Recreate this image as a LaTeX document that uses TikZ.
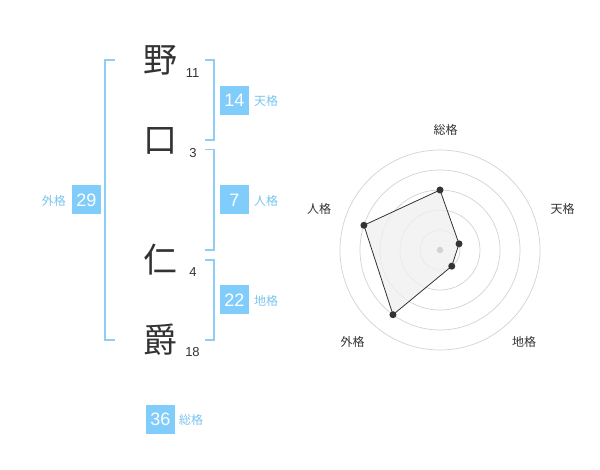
\documentclass[tikz,border=0pt]{standalone}
\usepackage{fontspec}
\setmainfont{Liberation Sans}
\newfontfamily\cjk{Noto Sans CJK JP}
\definecolor{boxblue}{RGB}{128,204,250}
\definecolor{lblblue}{RGB}{120,196,240}
\definecolor{brblue}{RGB}{140,206,245}
\definecolor{ink}{RGB}{51,51,51}
\definecolor{ringgray}{RGB}{210,210,210}
\definecolor{polyfill}{RGB}{240,240,240}
\begin{document}
\begin{tikzpicture}[x=1pt,y=-1pt,
  kanji/.style={font=\cjk\fontsize{34}{34}\selectfont, text=ink, inner sep=0pt},
  strokes/.style={font=\fontsize{13}{13}\selectfont, text=ink, inner sep=0pt},
  valbox/.style={fill=boxblue, text=white, font=\fontsize{18}{18}\selectfont, minimum width=29pt, minimum height=29pt, inner sep=0pt},
  kakulbl/.style={font=\cjk\fontsize{12}{12}\selectfont, text=lblblue, inner sep=0pt},
  bracket/.style={draw=brblue, line width=1.5pt},
  ring/.style={draw=ringgray, line width=0.7pt},
  radlbl/.style={font=\cjk\fontsize{12}{12}\selectfont, text=ink, inner sep=0pt},
  dot/.style={circle, fill=ink, inner sep=0pt, minimum size=7pt}
]
\useasboundingbox (0,0) rectangle (600,470);

% kanji
\node[kanji] (k1) at (160,60) {野};
\node[kanji] (k2) at (160,141) {口};
\node[kanji] (k3) at (160,260) {仁};
\node[kanji] (k4) at (160,340) {爵};
\node[strokes] (s1) at (192.5,73) {11};
\node[strokes] (s2) at (193,153) {3};
\node[strokes] (s3) at (193,272.5) {4};
\node[strokes] (s4) at (192.5,352.5) {18};

% brackets
\coordinate (lb1) at (115,60);
\coordinate (lb2) at (105,60);
\coordinate (lb3) at (105,340);
\coordinate (lb4) at (115,340);
\draw[bracket] (lb1) -- (lb2) -- (lb3) -- (lb4);
\coordinate (r1a) at (205,60);
\coordinate (r1b) at (214,60);
\coordinate (r1c) at (214,140);
\coordinate (r1d) at (205,140);
\draw[bracket] (r1a) -- (r1b) -- (r1c) -- (r1d);
\coordinate (r2a) at (205,149.5);
\coordinate (r2b) at (214,149.5);
\coordinate (r2c) at (214,250);
\coordinate (r2d) at (205,250);
\draw[bracket] (r2a) -- (r2b) -- (r2c) -- (r2d);
\coordinate (r3a) at (205,260);
\coordinate (r3b) at (214,260);
\coordinate (r3c) at (214,340);
\coordinate (r3d) at (205,340);
\draw[bracket] (r3a) -- (r3b) -- (r3c) -- (r3d);

% value boxes
\node[valbox] (ten) at (234.5,100.5) {14};
\node[kakulbl, anchor=west] (tenl) at (254,101) {天格};
\node[valbox] (jin) at (234.5,200) {7};
\node[kakulbl, anchor=west] (jinl) at (254,201) {人格};
\node[valbox] (chi) at (234.5,300) {22};
\node[kakulbl, anchor=west] (chil) at (254,301) {地格};
\node[valbox] (gai) at (86.5,200) {29};
\node[kakulbl, anchor=east] (gail) at (66,201) {外格};
\node[valbox] (sou) at (160.5,419) {36};
\node[kakulbl, anchor=west] (soul) at (179,420) {総格};

% radar
\begin{scope}[shift={(440,250)}]
  \foreach \r in {20,40,60,80,100} \draw[ring] (0,0) circle (\r);
  \coordinate (p1) at (90:-60);
  \path (0,0) ++(0,-60) coordinate (pa);
  \path (0,0) ++({20*cos(18)},{-20*sin(18)}) coordinate (pb);
  \path (0,0) ++({20*cos(-54)},{-20*sin(-54)}) coordinate (pc);
  \path (0,0) ++({80*cos(234)},{-80*sin(234)}) coordinate (pd);
  \path (0,0) ++({80*cos(162)},{-80*sin(162)}) coordinate (pe);
  \fill[polyfill, opacity=0.8] (pa) -- (pb) -- (pc) -- (pd) -- (pe) -- cycle;
  \draw[ink, line width=0.8pt] (pa) -- (pb) -- (pc) -- (pd) -- (pe) -- cycle;
  \fill[ringgray] (0,0) circle (3.2);
  \node[dot] (da) at (pa) {};
  \node[dot] (db) at (pb) {};
  \node[dot] (dc) at (pc) {};
  \node[dot] (dd) at (pd) {};
  \node[dot] (de) at (pe) {};
  \node[radlbl] (la) at (5.5,-120) {総格};
  \node[radlbl] (lb) at (122.5,-41.5) {天格};
  \node[radlbl] (lc) at (84,91.5) {地格};
  \node[radlbl] (ld) at (-87.5,91.5) {外格};
  \node[radlbl] (le) at (-121,-41) {人格};
\end{scope}
\end{tikzpicture}
\end{document}
